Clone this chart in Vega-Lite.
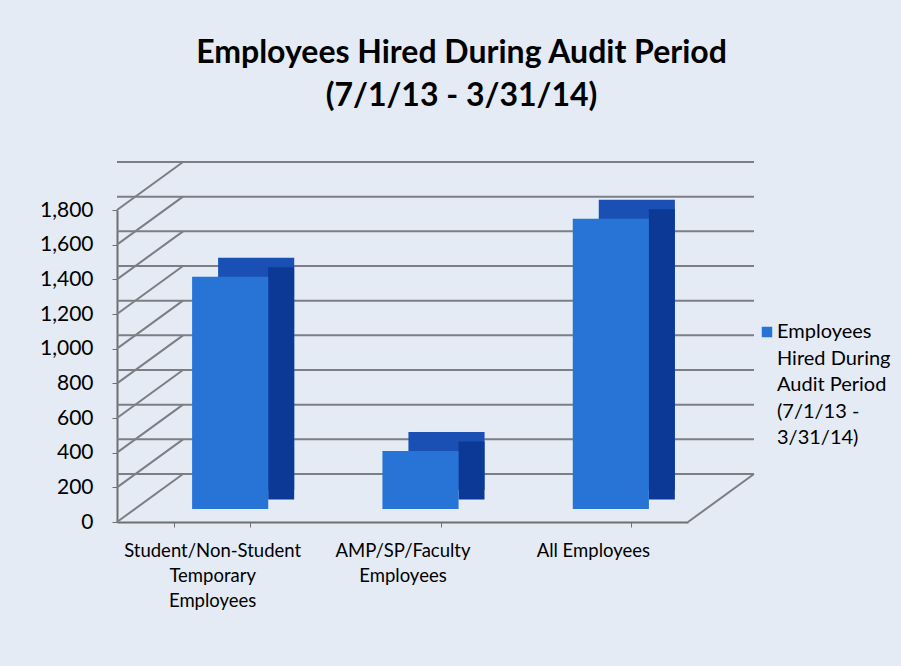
{
  "$schema": "https://vega.github.io/schema/vega-lite/v6.json",
  "autosize": {"type": "none"},
  "padding": {"left": 117, "top": 210, "right": 213, "bottom": 144},
  "width": 571,
  "height": 312,
  "background": "#e4ebf4",
  "title": {
    "text": ["Employees Hired During Audit Period", "(7/1/13 - 3/31/14)"],
    "anchor": "middle",
    "frame": "group",
    "dx": 59,
    "offset": 48,
    "fontSize": 32,
    "fontWeight": "bold",
    "font": "Lato",
    "color": "#000000",
    "lineHeight": 43
  },
  "datasets": {
    "bars": [
      {"category": "Student/Non-Student Temporary Employees", "value": 1340},
      {"category": "AMP/SP/Faculty Employees", "value": 335},
      {"category": "All Employees", "value": 1675}
    ],
    "grid": [
      {"value": 0}, {"value": 200}, {"value": 400}, {"value": 600}, {"value": 800},
      {"value": 1000}, {"value": 1200}, {"value": 1400}, {"value": 1600}, {"value": 1800}
    ]
  },
  "encoding": {
    "y": {
      "type": "quantitative",
      "scale": {"domain": [0, 1800], "nice": false},
      "axis": {
        "title": null,
        "values": [0, 200, 400, 600, 800, 1000, 1200, 1400, 1600, 1800],
        "format": ",d",
        "grid": false,
        "domainColor": "#6f6f6f",
        "domainWidth": 2,
        "tickColor": "#6f6f6f",
        "tickSize": 5,
        "labelPadding": 19,
        "labelFontSize": 21,
        "labelFont": "Lato",
        "labelColor": "#000000"
      }
    }
  },
  "layer": [
    {
      "data": {"name": "grid"},
      "mark": {"type": "rule", "color": "#7b7e84", "strokeWidth": 2, "xOffset": 66, "x2Offset": 66, "yOffset": -48, "y2Offset": -48},
      "encoding": {"y": {"field": "value", "type": "quantitative"}}
    },
    {
      "data": {"name": "grid"},
      "mark": {"type": "rule", "color": "#7b7e84", "strokeWidth": 2, "x2Offset": 66, "y2Offset": -48},
      "encoding": {
        "x": {"datum": "Student/Non-Student Temporary Employees", "bandPosition": -0.75},
        "x2": {"datum": "Student/Non-Student Temporary Employees", "bandPosition": -0.75},
        "y": {"field": "value", "type": "quantitative"},
        "y2": {"field": "value"}
      }
    },
    {
      "data": {"values": [{"value": 0}]},
      "mark": {"type": "rule", "color": "#7b7e84", "strokeWidth": 2, "x2Offset": 66, "y2Offset": -48},
      "encoding": {
        "x": {"datum": "All Employees", "bandPosition": 1.75},
        "x2": {"datum": "All Employees", "bandPosition": 1.75},
        "y": {"field": "value", "type": "quantitative"},
        "y2": {"field": "value"}
      }
    },
    {
      "data": {"name": "bars"},
      "mark": {"type": "bar", "color": "#1a50b4", "xOffset": 44, "yOffset": -32},
      "encoding": {
        "x": {"field": "category", "type": "nominal"},
        "y": {"field": "value", "type": "quantitative"}
      }
    },
    {
      "data": {"name": "bars"},
      "mark": {"type": "bar", "color": "#0c3996", "width": 26, "xOffset": 69, "yOffset": -22.5},
      "encoding": {
        "x": {"field": "category", "type": "nominal"},
        "y": {"field": "value", "type": "quantitative"}
      }
    },
    {
      "data": {"name": "bars"},
      "mark": {"type": "bar", "xOffset": 18, "yOffset": -13},
      "encoding": {
        "x": {
          "field": "category",
          "type": "nominal",
          "scale": {
            "domain": ["Student/Non-Student Temporary Employees", "AMP/SP/Faculty Employees", "All Employees"],
            "paddingInner": 0.6,
            "paddingOuter": 0.3
          },
          "axis": {
            "title": null,
            "labelAngle": 0,
            "labelAlign": "center",
            "labelFontSize": 18.5,
            "labelFont": "Lato",
            "labelColor": "#000000",
            "labelPadding": 14,
            "labelBaseline": "top",
            "labelExpr": "datum.value == 'Student/Non-Student Temporary Employees' ? ['Student/Non-Student', 'Temporary', 'Employees'] : datum.value == 'AMP/SP/Faculty Employees' ? ['AMP/SP/Faculty', 'Employees'] : datum.value",
            "labelLineHeight": 25,
            "tickBand": "extent",
            "tickSize": 5,
            "tickColor": "#6f6f6f",
            "domainColor": "#6f6f6f",
            "domainWidth": 2
          }
        },
        "y": {"field": "value", "type": "quantitative"},
        "color": {
          "datum": "Employees Hired During Audit Period (7/1/13 - 3/31/14)",
          "type": "nominal",
          "scale": {"range": ["#2874d6"]},
          "legend": {
            "title": null,
            "orient": "none",
            "legendX": 640,
            "legendY": 112,
            "symbolType": "square",
            "symbolSize": 110,
            "symbolStrokeWidth": 0,
            "labelFontSize": 20,
            "labelFont": "Lato",
            "labelColor": "#000000",
            "labelOffset": 0,
            "labelBaseline": "middle",
            "labelLimit": 200,
            "labelExpr": "['Employees', 'Hired During', 'Audit Period', '(7/1/13 -', '3/31/14)']"
          }
        }
      }
    }
  ],
  "config": {
    "view": {"stroke": null},
    "style": {"guide-label": {"lineHeight": 26.5}}
  }
}
